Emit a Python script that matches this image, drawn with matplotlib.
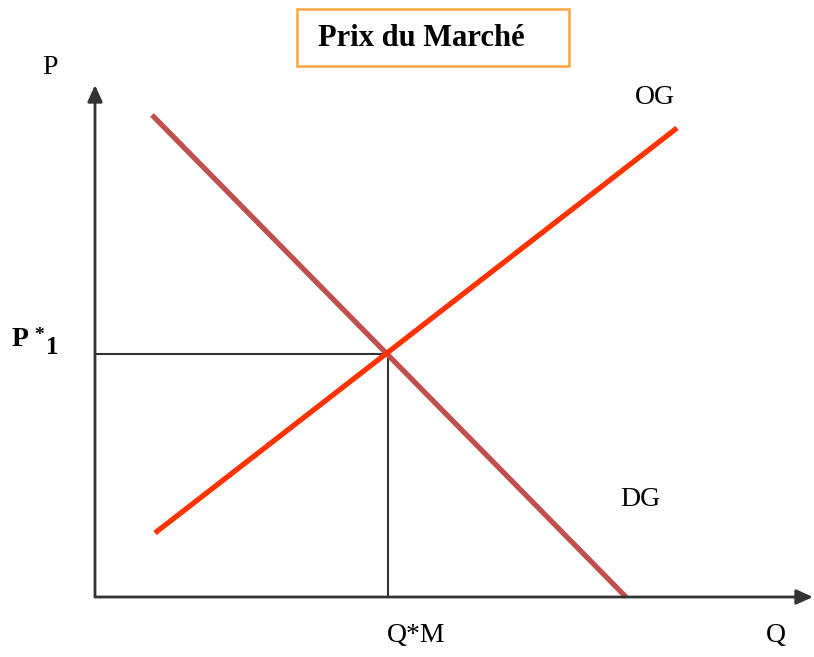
import matplotlib.pyplot as plt
from matplotlib.patches import FancyBboxPatch

# Curves (pixel-like units, y grows downward)
dg_x = [152, 626]
dg_y = [115, 597]
og_x = [155, 677]
og_y = [533, 128]
eq_x = 388
eq_y = 354
origin = (95, 597)

fig = plt.figure(figsize=(8.14, 6.57), dpi=100)
ax = fig.add_axes([0, 0, 1, 1])
ax.set_xlim(0, 814)
ax.set_ylim(657, 0)
ax.axis('off')

serif = ['Liberation Serif', 'DejaVu Serif']

# axes with arrows
ax.annotate('', xy=(origin[0], 85), xytext=(origin[0], origin[1]),
            arrowprops=dict(arrowstyle='-|>,head_length=1.0,head_width=0.45',
                            color='#333333', lw=2, shrinkA=0, shrinkB=0))
ax.annotate('', xy=(813, origin[1]), xytext=(origin[0], origin[1]),
            arrowprops=dict(arrowstyle='-|>,head_length=1.0,head_width=0.45',
                            color='#333333', lw=2, shrinkA=0, shrinkB=0))

# equilibrium guides
ax.plot([origin[0], eq_x], [eq_y, eq_y], color='#333333', lw=1.5)
ax.plot([eq_x, eq_x], [eq_y, origin[1]], color='#333333', lw=1.5)

# demand and supply
ax.plot(dg_x, dg_y, color='#C0504D', lw=3.8, solid_capstyle='butt')
ax.plot(og_x, og_y, color='#FF3300', lw=3.8, solid_capstyle='butt')

# title box
box = FancyBboxPatch((297, 9), 272, 57, boxstyle='square,pad=0',
                     fc='white', ec='#F9A73E', lw=1.8)
ax.add_patch(box)
ax.text(421, 38, 'Prix du Marché', family=serif, fontsize=22,
        fontweight='bold', ha='center', va='center')

# labels
fs = 20
ax.text(50, 68, 'P', family=serif, fontsize=fs, ha='center', va='center')
ax.text(655, 97, 'OG', family=serif, fontsize=fs, ha='center', va='center')
ax.text(640, 500, 'DG', family=serif, fontsize=fs, ha='center', va='center')
ax.text(12, 340, 'P', family=serif, fontsize=fs, fontweight='bold',
        ha='left', va='center')
ax.text(34, 335, '*', family=serif, fontsize=14, fontweight='bold',
        ha='left', va='center')
ax.text(46, 348, '1', family=serif, fontsize=18, fontweight='bold',
        ha='left', va='center')
ax.text(416, 635, 'Q*M', family=serif, fontsize=fs, ha='center', va='center')
ax.text(776, 635, 'Q', family=serif, fontsize=fs, ha='center', va='center')

fig.savefig('out.png', dpi=100)
